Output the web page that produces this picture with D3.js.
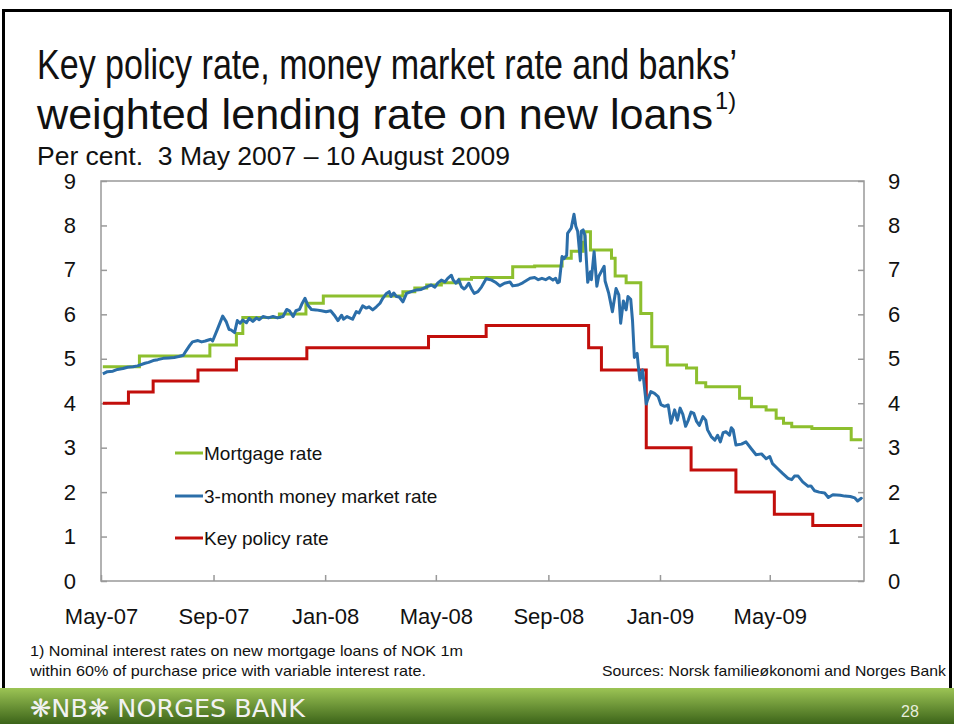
<!DOCTYPE html>
<html>
<head>
<meta charset="utf-8">
<script src="https://cdn.jsdelivr.net/npm/d3@7"></script>
<style>
  html, body { margin: 0; padding: 0; background: #fff; }
  svg { display: block; font-family: "Liberation Sans", Arial, sans-serif; }
</style>
</head>
<body>
<svg id="chart" width="954" height="724"></svg>
<script>
// ---------------- DATA ----------------
const yTicks = [0, 1, 2, 3, 4, 5, 6, 7, 8, 9];
const xTickDates = ["2007-05-01", "2007-09-01", "2008-01-01", "2008-05-01", "2008-09-01", "2009-01-01", "2009-05-01"];
const xTickLabels = ["May-07", "Sep-07", "Jan-08", "May-08", "Sep-08", "Jan-09", "May-09"];
const seriesNames = ["Mortgage rate", "3-month money market rate", "Key policy rate"];

// Key policy rate (step changes)
const keyPolicyRate = [
  ["2007-05-03", 4.00], ["2007-05-31", 4.25], ["2007-06-27", 4.50], ["2007-08-15", 4.75],
  ["2007-09-26", 5.00], ["2007-12-12", 5.25], ["2008-04-23", 5.50], ["2008-06-25", 5.75],
  ["2008-10-15", 5.25], ["2008-10-29", 4.75], ["2008-12-17", 3.00], ["2009-02-04", 2.50],
  ["2009-03-25", 2.00], ["2009-05-06", 1.50], ["2009-06-17", 1.25], ["2009-08-10", 1.25]
];

// Mortgage rate (step changes)
const mortgageRate = [
  ["2007-05-03", 4.82], ["2007-06-12", 5.06], ["2007-08-28", 5.31], ["2007-09-26", 5.57],
  ["2007-10-03", 5.93], ["2007-11-12", 6.01], ["2007-12-11", 6.25], ["2007-12-30", 6.41],
  ["2008-03-26", 6.51], ["2008-04-08", 6.59], ["2008-04-21", 6.66], ["2008-05-07", 6.71],
  ["2008-05-27", 6.79], ["2008-06-09", 6.83], ["2008-07-24", 7.07], ["2008-08-17", 7.09],
  ["2008-09-16", 7.26], ["2008-09-26", 7.42], ["2008-10-09", 7.62], ["2008-10-11", 7.86],
  ["2008-10-17", 7.45], ["2008-11-09", 7.26], ["2008-11-13", 6.86], ["2008-11-25", 6.71],
  ["2008-12-11", 6.02], ["2008-12-23", 5.27], ["2009-01-09", 4.86], ["2009-01-30", 4.79],
  ["2009-02-10", 4.46], ["2009-02-20", 4.37], ["2009-03-29", 4.11], ["2009-04-11", 3.92],
  ["2009-04-27", 3.85], ["2009-05-08", 3.66], ["2009-05-16", 3.55], ["2009-05-25", 3.47],
  ["2009-06-16", 3.43], ["2009-07-29", 3.18], ["2009-08-10", 3.18]
];

// 3-month money market rate
const moneyMarketRate = [
  ["2007-05-03", 4.66], ["2007-05-08", 4.71], ["2007-05-14", 4.72], ["2007-05-19", 4.76],
  ["2007-05-25", 4.78], ["2007-05-30", 4.81], ["2007-06-05", 4.82], ["2007-06-10", 4.84],
  ["2007-06-18", 4.90], ["2007-06-22", 4.92], ["2007-06-27", 4.96], ["2007-07-02", 4.98],
  ["2007-07-08", 5.01], ["2007-07-14", 5.02], ["2007-07-20", 5.03], ["2007-07-25", 5.05],
  ["2007-07-30", 5.08], ["2007-08-02", 5.18], ["2007-08-06", 5.30], ["2007-08-09", 5.38],
  ["2007-08-15", 5.41], ["2007-08-19", 5.38], ["2007-08-23", 5.40], ["2007-08-29", 5.44],
  ["2007-08-31", 5.40], ["2007-09-05", 5.65], ["2007-09-11", 5.96], ["2007-09-15", 5.83],
  ["2007-09-18", 5.66], ["2007-09-20", 5.65], ["2007-09-24", 5.59], ["2007-09-27", 5.86],
  ["2007-09-30", 5.80], ["2007-10-03", 5.87], ["2007-10-07", 5.81], ["2007-10-10", 5.91],
  ["2007-10-14", 5.84], ["2007-10-18", 5.92], ["2007-10-21", 5.88], ["2007-10-25", 5.95],
  ["2007-10-31", 5.92], ["2007-11-05", 5.95], ["2007-11-10", 5.92], ["2007-11-16", 5.95],
  ["2007-11-20", 6.11], ["2007-11-23", 6.08], ["2007-11-27", 5.95], ["2007-11-30", 6.08],
  ["2007-12-04", 6.11], ["2007-12-07", 6.25], ["2007-12-10", 6.36], ["2007-12-13", 6.21],
  ["2007-12-17", 6.11], ["2007-12-22", 6.10], ["2007-12-28", 6.08], ["2008-01-02", 6.06],
  ["2008-01-07", 6.08], ["2008-01-11", 5.98], ["2008-01-15", 5.86], ["2008-01-19", 5.98],
  ["2008-01-21", 5.89], ["2008-01-25", 5.95], ["2008-01-29", 5.91], ["2008-01-31", 5.89],
  ["2008-02-04", 6.06], ["2008-02-07", 6.03], ["2008-02-11", 6.19], ["2008-02-15", 6.14],
  ["2008-02-18", 6.17], ["2008-02-22", 6.10], ["2008-02-26", 6.17], ["2008-03-01", 6.25],
  ["2008-03-04", 6.36], ["2008-03-08", 6.47], ["2008-03-11", 6.51], ["2008-03-13", 6.40],
  ["2008-03-16", 6.48], ["2008-03-19", 6.40], ["2008-03-22", 6.39], ["2008-03-26", 6.28],
  ["2008-03-30", 6.47], ["2008-04-04", 6.51], ["2008-04-10", 6.55], ["2008-04-15", 6.56],
  ["2008-04-21", 6.62], ["2008-04-26", 6.66], ["2008-04-30", 6.61], ["2008-05-03", 6.70],
  ["2008-05-07", 6.77], ["2008-05-11", 6.73], ["2008-05-14", 6.81], ["2008-05-18", 6.88],
  ["2008-05-20", 6.77], ["2008-05-23", 6.70], ["2008-05-26", 6.78], ["2008-05-29", 6.62],
  ["2008-06-01", 6.57], ["2008-06-03", 6.61], ["2008-06-06", 6.70], ["2008-06-09", 6.57],
  ["2008-06-12", 6.47], ["2008-06-16", 6.51], ["2008-06-20", 6.62], ["2008-06-25", 6.80],
  ["2008-07-01", 6.77], ["2008-07-06", 6.71], ["2008-07-10", 6.64], ["2008-07-15", 6.70],
  ["2008-07-21", 6.73], ["2008-07-24", 6.64], ["2008-07-30", 6.66], ["2008-08-04", 6.71],
  ["2008-08-08", 6.76], ["2008-08-12", 6.81], ["2008-08-17", 6.83], ["2008-08-21", 6.78],
  ["2008-08-25", 6.81], ["2008-08-29", 6.78], ["2008-09-02", 6.83], ["2008-09-06", 6.77],
  ["2008-09-09", 6.81], ["2008-09-11", 6.71], ["2008-09-13", 6.73], ["2008-09-16", 7.30],
  ["2008-09-18", 7.25], ["2008-09-21", 7.33], ["2008-09-22", 7.82], ["2008-09-26", 7.94],
  ["2008-09-29", 8.25], ["2008-10-01", 7.98], ["2008-10-03", 7.87], ["2008-10-06", 7.20],
  ["2008-10-07", 7.87], ["2008-10-09", 7.90], ["2008-10-11", 7.77], ["2008-10-14", 6.72],
  ["2008-10-17", 6.96], ["2008-10-18", 6.78], ["2008-10-21", 7.41], ["2008-10-24", 6.63],
  ["2008-10-26", 6.85], ["2008-11-01", 7.08], ["2008-11-02", 6.75], ["2008-11-06", 6.47],
  ["2008-11-10", 6.06], ["2008-11-14", 6.58], ["2008-11-17", 6.44], ["2008-11-19", 5.80],
  ["2008-11-22", 6.30], ["2008-11-25", 6.10], ["2008-11-27", 6.40], ["2008-11-30", 6.34],
  ["2008-12-02", 5.85], ["2008-12-04", 5.03], ["2008-12-07", 5.12], ["2008-12-08", 4.90],
  ["2008-12-10", 4.52], ["2008-12-13", 4.75], ["2008-12-17", 3.98], ["2008-12-18", 4.05],
  ["2008-12-22", 4.26], ["2008-12-26", 4.22], ["2008-12-30", 4.15], ["2009-01-02", 3.97],
  ["2009-01-06", 3.93], ["2009-01-10", 3.96], ["2009-01-13", 3.55], ["2009-01-17", 3.85],
  ["2009-01-20", 3.62], ["2009-01-23", 3.89], ["2009-01-26", 3.75], ["2009-01-29", 3.48],
  ["2009-02-01", 3.62], ["2009-02-04", 3.80], ["2009-02-07", 3.77], ["2009-02-10", 3.59],
  ["2009-02-13", 3.50], ["2009-02-17", 3.70], ["2009-02-20", 3.62], ["2009-02-22", 3.40],
  ["2009-02-26", 3.25], ["2009-03-02", 3.17], ["2009-03-05", 3.28], ["2009-03-08", 3.13],
  ["2009-03-11", 3.34], ["2009-03-14", 3.36], ["2009-03-18", 3.28], ["2009-03-20", 3.45],
  ["2009-03-22", 3.40], ["2009-03-25", 3.06], ["2009-03-31", 3.08], ["2009-04-05", 3.13],
  ["2009-04-11", 2.97], ["2009-04-16", 2.84], ["2009-04-22", 2.86], ["2009-04-27", 2.75],
  ["2009-05-01", 2.80], ["2009-05-04", 2.64], ["2009-05-10", 2.52], ["2009-05-15", 2.42],
  ["2009-05-21", 2.31], ["2009-05-25", 2.28], ["2009-05-28", 2.36], ["2009-06-01", 2.36],
  ["2009-06-06", 2.23], ["2009-06-12", 2.13], ["2009-06-15", 2.14], ["2009-06-19", 2.03],
  ["2009-06-24", 2.00], ["2009-06-30", 1.98], ["2009-07-04", 1.88], ["2009-07-09", 1.94],
  ["2009-07-17", 1.93], ["2009-07-22", 1.91], ["2009-07-28", 1.90], ["2009-08-02", 1.87],
  ["2009-08-05", 1.80], ["2009-08-09", 1.86], ["2009-08-10", 1.84]
];

// ---------------- CHART ----------------
const parse = d3.timeParse("%Y-%m-%d");
const toPts = arr => arr.map(([d, v]) => ({ date: parse(d), v }));

const colors = { mortgage: "#8dbf2e", money: "#2b6ea9", key: "#c20e0b" };
const svg = d3.select("#chart");
const L = 101, R = 864, T = 181, B = 581;

const x = d3.scaleTime()
  .domain([parse("2007-05-01"), parse("2009-08-12")])
  .range([L, R]);
const y = d3.scaleLinear().domain([0, 9]).range([B, T]);

// Slide frame
svg.append("rect").attr("x", 3.5).attr("y", 10.5).attr("width", 947).attr("height", 690)
  .attr("fill", "none").attr("stroke", "#000").attr("stroke-width", 3);

// Title
const titleFont = "'Liberation Sans', Arial, sans-serif";
svg.append("text").attr("x", 37).attr("y", 79).attr("font-size", 43)
  .attr("textLength", 700).attr("lengthAdjust", "spacingAndGlyphs")
  .attr("fill", "#111").style("font-family", titleFont)
  .text("Key policy rate, money market rate and banks’");
svg.append("text").attr("x", 37).attr("y", 129).attr("font-size", 43)
  .attr("textLength", 676).attr("lengthAdjust", "spacingAndGlyphs")
  .attr("fill", "#111").style("font-family", titleFont)
  .text("weighted lending rate on new loans");
svg.append("text").attr("x", 715).attr("y", 109).attr("font-size", 24)
  .attr("textLength", 21).attr("lengthAdjust", "spacingAndGlyphs")
  .attr("fill", "#111").text("1)");
svg.append("text").attr("x", 37).attr("y", 165).attr("font-size", 25)
  .attr("textLength", 473).attr("lengthAdjust", "spacingAndGlyphs")
  .style("white-space", "pre")
  .attr("fill", "#111").text("Per cent.  3 May 2007 – 10 August 2009");

// Axes
const axisColor = "#999";
function styleAxis(g) {
  g.select(".domain").remove();
  g.selectAll(".tick line").attr("stroke", axisColor).attr("stroke-width", 1.5);
  g.selectAll(".tick text").attr("fill", "#111").attr("font-size", 22)
    .style("font-family", titleFont);
}
svg.append("g").attr("transform", `translate(${L},0)`)
  .call(d3.axisLeft(y).tickValues(yTicks).tickSize(-6).tickSizeOuter(0).tickPadding(25).tickFormat(d3.format("d")))
  .call(styleAxis);
svg.append("g").attr("transform", `translate(${R},0)`)
  .call(d3.axisRight(y).tickValues(yTicks).tickSize(-6).tickSizeOuter(0).tickPadding(24).tickFormat(d3.format("d")))
  .call(styleAxis);
svg.append("g").attr("transform", `translate(0,${B})`)
  .call(d3.axisBottom(x).tickValues(xTickDates.map(parse)).tickSize(-6).tickSizeOuter(0).tickPadding(27)
    .tickFormat((d, i) => xTickLabels[i]))
  .call(styleAxis);

// Plot frame
svg.append("rect").attr("x", L).attr("y", T).attr("width", R - L).attr("height", B - T)
  .attr("fill", "none").attr("stroke", axisColor).attr("stroke-width", 1.5);

// Lines
const stepLine = d3.line().x(d => x(d.date)).y(d => y(d.v)).curve(d3.curveStepAfter);
const plainLine = d3.line().x(d => x(d.date)).y(d => y(d.v));

svg.append("path").datum(toPts(mortgageRate)).attr("d", stepLine)
  .attr("fill", "none").attr("stroke", colors.mortgage).attr("stroke-width", 3);
svg.append("path").datum(toPts(keyPolicyRate)).attr("d", stepLine)
  .attr("fill", "none").attr("stroke", colors.key).attr("stroke-width", 3);
svg.append("path").datum(toPts(moneyMarketRate)).attr("d", plainLine)
  .attr("fill", "none").attr("stroke", colors.money).attr("stroke-width", 3)
  .attr("stroke-linejoin", "round");

// Legend
const legendColors = [colors.mortgage, colors.money, colors.key];
const legendY = [453, 496, 538];
const lg = svg.append("g");
seriesNames.forEach((name, i) => {
  lg.append("line").attr("x1", 175).attr("x2", 203).attr("y1", legendY[i]).attr("y2", legendY[i])
    .attr("stroke", legendColors[i]).attr("stroke-width", 3);
  lg.append("text").attr("x", 204).attr("y", legendY[i] + 7).attr("font-size", 19)
    .attr("fill", "#111").text(name);
});

// Footnotes
svg.append("text").attr("x", 30).attr("y", 656).attr("font-size", 15)
  .attr("textLength", 433).attr("lengthAdjust", "spacingAndGlyphs").attr("fill", "#111")
  .text("1) Nominal interest rates on new mortgage loans of NOK 1m");
svg.append("text").attr("x", 30).attr("y", 676).attr("font-size", 15)
  .attr("textLength", 396).attr("lengthAdjust", "spacingAndGlyphs").attr("fill", "#111")
  .text("within 60% of purchase price with variable interest rate.");
svg.append("text").attr("x", 602).attr("y", 676).attr("font-size", 15)
  .attr("textLength", 344).attr("lengthAdjust", "spacingAndGlyphs").attr("fill", "#111")
  .text("Sources: Norsk familieøkonomi and Norges Bank");

// Footer band
const defs = svg.append("defs");
const grad = defs.append("linearGradient").attr("id", "band").attr("x1", 0).attr("y1", 0).attr("x2", 0).attr("y2", 1);
grad.append("stop").attr("offset", "0%").attr("stop-color", "#9cc455");
grad.append("stop").attr("offset", "100%").attr("stop-color", "#3c6419");
svg.append("rect").attr("x", 0).attr("y", 688).attr("width", 954).attr("height", 36).attr("fill", "url(#band)");
svg.append("text").attr("x", 30).attr("y", 717).attr("font-size", 25).attr("fill", "#f2f2f2")
  .attr("textLength", 275).attr("lengthAdjust", "spacingAndGlyphs")
  .style("font-family", "'DejaVu Sans', sans-serif")
  .text("❋NB❋ NORGES BANK");
svg.append("text").attr("x", 910).attr("y", 717).attr("font-size", 16).attr("fill", "#e8eedc")
  .attr("text-anchor", "middle").text("28");
</script>
</body>
</html>
